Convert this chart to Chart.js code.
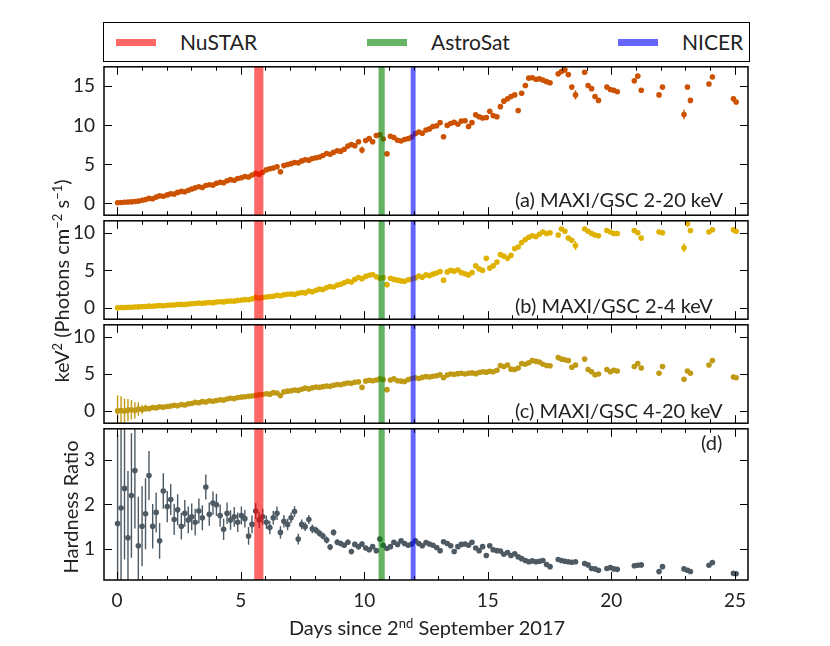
<!DOCTYPE html>
<html>
<head>
<meta charset="utf-8">
<script src="https://cdn.jsdelivr.net/npm/chart.js@4.4.0/dist/chart.umd.min.js"></script>
<style>
  body { margin: 0; background: #fff; font-family: Lato, sans-serif; color: #222; }
  #wrap { position: relative; width: 830px; height: 646px; }
  canvas { position: absolute; left: 0; }
  .txt { position: absolute; white-space: nowrap; font-size: 20px; line-height: 1; }
  .rot { transform: translate(-50%, -50%) rotate(-90deg); }
  sup { font-size: 0.65em; vertical-align: 0.55em; line-height: 0; }
  #legend { position: absolute; left: 103px; top: 22px; width: 647px; height: 40px;
            box-sizing: border-box; border: 1.5px solid #000; }
  #legend .sw { position: absolute; top: 16px; width: 40px; height: 7px; }
  #legend .lt { position: absolute; top: 8px; font-size: 21px; line-height: 1; }
</style>
</head>
<body>
<div id="wrap">
  <div id="legend"></div>
  <canvas id="pa" width="830" height="154" style="top:64px"></canvas>
  <canvas id="pb" width="830" height="104" style="top:218px"></canvas>
  <canvas id="pc" width="830" height="104" style="top:322px"></canvas>
  <canvas id="pd" width="830" height="190" style="top:426px"></canvas>

  <div class="txt" style="left:515px;top:189px">(a) MAXI/GSC 2-20 keV</div>
  <div class="txt" style="left:515px;top:295px">(b) MAXI/GSC 2-4 keV</div>
  <div class="txt" style="left:515px;top:400px">(c) MAXI/GSC 4-20 keV</div>
  <div class="txt" style="left:701px;top:432px">(d)</div>

  <div class="txt rot" style="left:61px;top:281px">keV<sup>2</sup> (Photons cm<sup>&minus;2</sup> s<sup>&minus;1</sup>)</div>
  <div class="txt rot" style="left:70px;top:507px">Hardness Ratio</div>
  <div class="txt" style="left:427px;top:627px;transform:translate(-50%,-50%)">Days since 2<sup>nd</sup> September 2017</div>
</div>

<script>
// observation times (days since 2 Sep 2017)
var days = [
  0.02, 0.16, 0.30, 0.44, 0.58, 0.72, 0.86,
  1.01, 1.15, 1.29, 1.44, 1.58, 1.72, 1.87,
  2.03, 2.17, 2.31, 2.45, 2.60, 2.74, 2.88,
  3.02, 3.16, 3.31, 3.45, 3.59, 3.73, 3.88,
  4.02, 4.17, 4.31, 4.45, 4.59, 4.74, 4.88,
  5.03, 5.17, 5.32, 5.46, 5.61, 5.75, 5.89,
  6.04, 6.18, 6.32, 6.47, 6.61, 6.75, 6.90,
  7.04, 7.18, 7.33, 7.47, 7.61, 7.76, 7.90,
  8.05, 8.19, 8.33, 8.48, 8.62, 8.76, 8.91,
  9.05, 9.19, 9.34, 9.48, 9.62, 9.77, 9.91,
  10.06, 10.20, 10.34, 10.49, 10.63, 10.77, 10.92,
  11.06, 11.20, 11.35, 11.49, 11.63, 11.78, 11.92,
  12.07, 12.21, 12.35, 12.50, 12.64, 12.78, 12.93,
  13.07, 13.21, 13.36, 13.50, 13.64, 13.79, 13.93,
  14.08, 14.22, 14.36, 14.51, 14.65, 14.79, 14.94,
  15.08, 15.22, 15.37, 15.51, 15.65, 15.80, 15.94,
  16.09, 16.23, 16.37, 16.52, 16.66, 16.80, 16.95,
  17.09, 17.23, 17.38, 17.52,
  17.85, 17.98, 18.12, 18.26, 18.40, 18.55,
  18.92, 19.06, 19.20, 19.34, 19.48,
  19.82, 19.96, 20.10, 20.24,
  20.93, 21.07, 21.21,
  21.93, 22.07,
  22.94, 23.08, 23.20,
  23.95, 24.09,
  24.94, 25.05
];

// (a) MAXI/GSC 2-20 keV
var flux2to20 = [
  0.10, 0.12, 0.15, 0.18, 0.20, 0.26, 0.30,
  0.40, 0.50, 0.65, 0.60, 0.82, 0.98, 0.92,
  1.10, 1.25, 1.20, 1.42, 1.55, 1.50, 1.70,
  1.85, 2.00, 2.15, 2.05, 2.30, 2.40, 2.35,
  2.60, 2.72, 2.65, 2.92, 3.05, 2.98, 3.20,
  3.30, 3.45, 3.40, 3.65, 3.85, 3.75, 4.00,
  4.30, 4.45, 4.55, 4.70, 4.05, 4.85, 5.00,
  5.10, 5.25, 5.20, 5.45, 5.60, 5.55, 5.75,
  5.85, 5.95, 6.15, 6.40, 6.30, 6.55, 6.75,
  6.70, 6.95, 7.35, 7.55, 7.40, 7.90, 6.85,
  8.05, 8.30, 7.90, 8.70, 8.80, 8.25, 6.35,
  8.60, 8.45, 8.10, 8.00, 8.20, 8.30, 8.50,
  8.95, 9.15, 9.00, 9.40, 9.55, 9.85, 9.95,
  10.35, 8.55, 10.00, 10.25, 10.40, 10.15, 10.55,
  10.60, 9.85, 10.35, 11.35, 11.10, 10.95, 11.00,
  11.80, 11.25, 11.10, 12.40, 13.10, 13.40, 13.70,
  13.90, 11.90, 14.10, 15.10, 16.05, 16.10, 15.90,
  15.95, 15.80, 15.60, 15.45,
  16.60, 16.90, 17.10, 16.50, 14.90, 13.90,
  16.80, 15.10, 14.70, 13.70, 13.20,
  14.90, 14.60, 14.50, 14.30,
  15.70, 16.30, 14.50,
  13.90, 14.90,
  11.40, 14.90, 13.20,
  15.30, 16.20,
  13.40, 13.00
];
var err2to20 = [
  0.1, 0.1, 0.1, 0.1, 0.1, 0.1, 0.1,
  0.1, 0.1, 0.1, 0.1, 0.1, 0.1, 0.1,
  0.1, 0.1, 0.1, 0.1, 0.1, 0.1, 0.1,
  0.1, 0.1, 0.1, 0.1, 0.1, 0.1, 0.1,
  0.1, 0.1, 0.1, 0.1, 0.1, 0.1, 0.1,
  0.1, 0.1, 0.1, 0.1, 0.1, 0.1, 0.1,
  0.1, 0.1, 0.1, 0.1, 0.2, 0.1, 0.1,
  0.1, 0.1, 0.1, 0.1, 0.1, 0.1, 0.1,
  0.1, 0.1, 0.1, 0.1, 0.1, 0.1, 0.1,
  0.1, 0.1, 0.1, 0.1, 0.1, 0.1, 0.45,
  0.1, 0.1, 0.1, 0.1, 0.1, 0.1, 0.2,
  0.1, 0.1, 0.1, 0.1, 0.1, 0.1, 0.1,
  0.1, 0.1, 0.1, 0.1, 0.1, 0.1, 0.1,
  0.1, 0.2, 0.1, 0.1, 0.1, 0.1, 0.1,
  0.1, 0.1, 0.1, 0.1, 0.1, 0.1, 0.1,
  0.1, 0.1, 0.1, 0.1, 0.1, 0.1, 0.1,
  0.1, 0.2, 0.1, 0.1, 0.1, 0.1, 0.1,
  0.2, 0.2, 0.2, 0.2,
  0.2, 0.2, 0.2, 0.2, 0.3, 0.6,
  0.2, 0.2, 0.2, 0.3, 0.2,
  0.2, 0.2, 0.2, 0.2,
  0.2, 0.2, 0.2,
  0.2, 0.2,
  0.6, 0.2, 0.3,
  0.3, 0.3,
  0.3, 0.3
];

// (b) MAXI/GSC 2-4 keV
var flux2to4 = [
  0.02, 0.05, 0.06, 0.08, 0.10, 0.12, 0.14,
  0.18, 0.20, 0.24, 0.22, 0.28, 0.32, 0.30,
  0.36, 0.40, 0.38, 0.45, 0.48, 0.46, 0.52,
  0.55, 0.60, 0.65, 0.62, 0.68, 0.72, 0.70,
  0.78, 0.82, 0.80, 0.88, 0.92, 0.90, 1.00,
  1.05, 1.10, 1.08, 1.20, 1.40, 1.30, 1.38,
  1.45, 1.52, 1.55, 1.68, 1.62, 1.75, 1.82,
  1.85, 1.80, 1.95, 2.05, 2.00, 2.25, 2.15,
  2.35, 2.50, 2.45, 2.70, 2.85, 2.78, 3.05,
  3.15, 3.35, 3.55, 3.45, 3.80, 4.05, 3.90,
  4.20, 4.35, 4.45, 4.15, 3.95, 4.05, 3.10,
  3.95, 3.80, 3.70, 3.60, 3.55, 3.75, 3.85,
  4.00, 4.25, 4.10, 4.40, 4.30, 4.50, 4.65,
  4.85, 3.70, 4.80, 5.00, 4.90, 5.05, 4.70,
  4.55, 4.40, 4.70, 5.60, 5.20, 5.00, 6.60,
  5.30, 5.60, 6.10, 7.10, 6.90, 6.60, 7.00,
  7.90, 8.10, 8.70, 9.10, 9.40, 9.60, 9.50,
  9.80, 10.10, 9.90, 10.00,
  9.70, 10.50, 10.20, 9.30, 9.00, 8.30,
  10.50, 10.20, 9.90, 9.70, 9.60,
  10.30, 10.10, 9.90, 9.90,
  10.30, 10.00, 9.30,
  10.10, 10.00,
  8.00, 11.20, 10.30,
  10.10, 10.40,
  10.40, 10.20
];
var err2to4 = [
  0.06, 0.06, 0.06, 0.06, 0.06, 0.06, 0.06,
  0.06, 0.06, 0.06, 0.06, 0.06, 0.06, 0.06,
  0.06, 0.06, 0.06, 0.06, 0.06, 0.06, 0.06,
  0.06, 0.06, 0.06, 0.06, 0.06, 0.06, 0.06,
  0.06, 0.06, 0.06, 0.06, 0.06, 0.06, 0.06,
  0.06, 0.06, 0.06, 0.06, 0.06, 0.06, 0.06,
  0.06, 0.06, 0.06, 0.06, 0.06, 0.06, 0.06,
  0.06, 0.06, 0.06, 0.06, 0.06, 0.06, 0.06,
  0.06, 0.06, 0.06, 0.06, 0.06, 0.06, 0.06,
  0.06, 0.06, 0.06, 0.06, 0.06, 0.06, 0.06,
  0.06, 0.06, 0.06, 0.06, 0.06, 0.06, 0.15,
  0.06, 0.06, 0.06, 0.06, 0.06, 0.06, 0.06,
  0.06, 0.06, 0.06, 0.06, 0.06, 0.06, 0.06,
  0.06, 0.15, 0.06, 0.06, 0.06, 0.06, 0.06,
  0.06, 0.06, 0.06, 0.06, 0.06, 0.06, 0.06,
  0.06, 0.06, 0.06, 0.06, 0.06, 0.06, 0.06,
  0.06, 0.06, 0.06, 0.06, 0.06, 0.06, 0.06,
  0.15, 0.15, 0.15, 0.15,
  0.15, 0.15, 0.15, 0.2, 0.3, 0.6,
  0.15, 0.15, 0.15, 0.15, 0.15,
  0.15, 0.15, 0.15, 0.15,
  0.15, 0.15, 0.2,
  0.15, 0.15,
  0.6, 0.4, 0.2,
  0.2, 0.2,
  0.2, 0.2
];

// (c) MAXI/GSC 4-20 keV
var flux4to20 = [
  0.05, 0.10, 0.02, 0.15, 0.20, 0.12, 0.30,
  0.25, 0.40, 0.35, 0.50, 0.45, 0.60, 0.55,
  0.65, 0.70, 0.80, 0.75, 0.90, 0.85, 1.00,
  1.05, 1.20, 1.15, 1.30, 1.25, 1.40, 1.35,
  1.45, 1.55, 1.50, 1.65, 1.75, 1.70, 1.85,
  1.90, 1.95, 2.00, 2.05, 2.15, 2.20, 2.25,
  2.35, 2.30, 2.50, 2.45, 2.10, 2.60, 2.70,
  2.75, 2.85, 2.80, 2.95, 3.10, 3.00, 3.15,
  3.25, 3.20, 3.30, 3.40, 3.35, 3.50, 3.60,
  3.55, 3.70, 3.80, 3.75, 3.90, 3.95, 3.20,
  4.05, 4.15, 4.10, 4.20, 4.35, 4.25, 2.90,
  4.20, 4.35, 4.10, 4.05, 4.00, 4.25, 4.40,
  4.50, 4.40, 4.55, 4.65, 4.60, 4.70, 4.75,
  4.90, 4.50, 4.85, 5.00, 4.95, 5.05, 5.10,
  5.00, 5.10, 5.15, 5.05, 5.20, 5.30, 5.25,
  5.35, 5.30, 5.50, 6.15, 6.00, 6.20, 5.65,
  5.60, 5.80, 6.40, 6.30, 6.50, 6.80, 6.70,
  6.60, 6.30, 6.15, 6.10,
  7.20, 7.00, 6.90, 6.80, 5.90, 6.20,
  7.00, 5.60, 5.30, 4.90, 5.00,
  5.60, 5.30, 5.50, 5.40,
  6.00, 6.40, 5.80,
  5.10, 6.00,
  4.30, 5.40, 5.10,
  6.20, 6.80,
  4.60, 4.50
];
var err4to20 = [
  2.1, 1.9, 1.7, 1.5, 1.3, 1.1, 0.9,
  0.6, 0.5, 0.3, 0.2, 0.15, 0.15, 0.1,
  0.1, 0.1, 0.1, 0.1, 0.1, 0.1, 0.1,
  0.1, 0.1, 0.1, 0.1, 0.1, 0.1, 0.1,
  0.1, 0.1, 0.1, 0.1, 0.1, 0.1, 0.1,
  0.1, 0.1, 0.1, 0.1, 0.1, 0.1, 0.1,
  0.1, 0.1, 0.1, 0.1, 0.1, 0.1, 0.1,
  0.1, 0.1, 0.1, 0.1, 0.1, 0.1, 0.1,
  0.1, 0.1, 0.1, 0.1, 0.1, 0.1, 0.1,
  0.1, 0.1, 0.1, 0.1, 0.1, 0.1, 0.1,
  0.1, 0.1, 0.1, 0.1, 0.1, 0.1, 0.1,
  0.1, 0.1, 0.1, 0.1, 0.1, 0.1, 0.1,
  0.1, 0.1, 0.1, 0.1, 0.1, 0.1, 0.1,
  0.1, 0.1, 0.1, 0.1, 0.1, 0.1, 0.1,
  0.1, 0.1, 0.1, 0.1, 0.1, 0.1, 0.1,
  0.1, 0.1, 0.1, 0.1, 0.1, 0.1, 0.1,
  0.1, 0.1, 0.1, 0.1, 0.1, 0.1, 0.1,
  0.15, 0.15, 0.15, 0.15,
  0.15, 0.15, 0.15, 0.15, 0.15, 0.2,
  0.15, 0.15, 0.15, 0.15, 0.15,
  0.15, 0.15, 0.15, 0.15,
  0.15, 0.15, 0.15,
  0.15, 0.15,
  0.2, 0.15, 0.15,
  0.15, 0.15,
  0.15, 0.15
];

// (d) hardness ratio
var hardness = [
  1.57, 1.92, 2.36, 1.25, 2.20, 2.76, 1.07,
  1.51, 1.79, 2.65, 1.51, 1.82, 1.18, 2.30,
  1.95, 2.11, 1.66, 1.88, 1.51, 1.80, 1.65,
  1.72, 1.60, 1.85, 1.70, 2.39, 1.78, 2.03,
  1.99, 1.75, 1.44, 1.80, 1.65, 1.72, 1.60,
  1.75, 1.68, 1.29, 1.55, 1.85, 1.65, 1.72,
  1.60, 1.48, 1.70, 1.80, 1.37, 1.62, 1.55,
  1.70, 1.84, 1.22, 1.55, 1.50, 1.66, 1.45,
  1.42, 1.35, 1.29, 1.20, 1.04, 1.37, 1.15,
  1.12, 1.08, 1.15, 0.94, 1.10, 1.05, 1.11,
  1.02, 0.98, 1.05, 0.96, 1.22, 1.08, 1.01,
  1.05, 1.15, 1.10, 1.18, 1.12, 1.08, 1.11,
  1.18, 1.12, 1.07, 1.14, 1.11, 1.08, 1.03,
  0.96, 1.16, 1.12, 1.07, 0.94, 1.05, 1.10,
  1.11, 1.08, 1.15, 1.02, 0.96, 1.05, 0.85,
  1.07, 0.98, 0.96, 0.95, 0.88, 0.92, 0.85,
  0.89, 0.82, 0.78, 0.74, 0.71, 0.73, 0.71,
  0.72, 0.74, 0.65, 0.60,
  0.76, 0.74, 0.72, 0.71, 0.70, 0.71,
  0.67, 0.64, 0.56, 0.55, 0.52,
  0.56, 0.58, 0.55, 0.54,
  0.62, 0.63, 0.64,
  0.49, 0.60,
  0.55, 0.52, 0.49,
  0.63, 0.69,
  0.45, 0.44
];
var errHardness = [
  2.0, 1.8, 1.6, 1.5, 1.4, 1.3, 1.1,
  0.9, 0.8, 0.55, 0.5, 0.45, 0.4, 0.4,
  0.35, 0.35, 0.35, 0.35, 0.3, 0.3, 0.3,
  0.3, 0.3, 0.28, 0.28, 0.28, 0.26, 0.26,
  0.25, 0.25, 0.24, 0.24, 0.22, 0.22, 0.22,
  0.2, 0.2, 0.2, 0.2, 0.18, 0.18, 0.18,
  0.15, 0.15, 0.15, 0.15, 0.14, 0.14, 0.13,
  0.12, 0.12, 0.12, 0.11, 0.1, 0.1, 0.1,
  0.08, 0.08, 0.08, 0.08, 0.07, 0.07, 0.07,
  0.06, 0.06, 0.06, 0.06, 0.06, 0.06, 0.06,
  0.05, 0.05, 0.05, 0.05, 0.05, 0.05, 0.05,
  0.05, 0.05, 0.05, 0.05, 0.05, 0.05, 0.05,
  0.05, 0.05, 0.05, 0.05, 0.05, 0.05, 0.05,
  0.05, 0.05, 0.05, 0.05, 0.05, 0.05, 0.05,
  0.04, 0.04, 0.04, 0.04, 0.04, 0.04, 0.04,
  0.04, 0.04, 0.04, 0.04, 0.04, 0.04, 0.04,
  0.04, 0.04, 0.04, 0.04, 0.04, 0.04, 0.04,
  0.03, 0.03, 0.03, 0.03,
  0.03, 0.03, 0.03, 0.03, 0.03, 0.03,
  0.03, 0.03, 0.03, 0.03, 0.03,
  0.03, 0.03, 0.03, 0.03,
  0.03, 0.03, 0.03,
  0.03, 0.03,
  0.03, 0.03, 0.03,
  0.03, 0.03,
  0.03, 0.03
];

// pointed observations (shaded bands)
var bandNames = ['NuSTAR', 'AstroSat', 'NICER'];
var bandStart = [5.55, 10.58, 11.88];
var bandEnd = [5.92, 10.83, 12.08];
var bandColors = ['rgba(255,0,0,0.6)', 'rgba(0,128,0,0.6)', 'rgba(0,0,255,0.6)'];

// tick labels
var xTicks = [0, 5, 10, 15, 20, 25];
var yTicksA = [0, 5, 10, 15];
var yTicksB = [0, 5, 10];
var yTicksC = [0, 5, 10];
var yTicksD = [1, 2, 3];

Chart.defaults.font.family = 'Lato';
Chart.defaults.color = '#222';

// legend
var legend = document.getElementById('legend');
bandNames.forEach(function (name, i) {
  var sw = document.createElement('span');
  sw.className = 'sw';
  sw.style.left = (12 + 251 * i) + 'px';
  sw.style.background = bandColors[i];
  legend.appendChild(sw);
  var lt = document.createElement('span');
  lt.className = 'lt';
  lt.style.left = (76 + 251 * i) + 'px';
  lt.textContent = name;
  legend.appendChild(lt);
});

function panelPlugin(vals, errs, color, yTicks) {
  return {
    id: 'panel',
    beforeDatasetsDraw: function (chart) {
      var ctx = chart.ctx, xs = chart.scales.x, ys = chart.scales.y, a = chart.chartArea;
      ctx.save();
      ctx.beginPath();
      ctx.rect(a.left, a.top, a.right - a.left, a.bottom - a.top);
      ctx.clip();
      ctx.strokeStyle = color;
      ctx.lineWidth = 1.4;
      for (var i = 0; i < days.length; i++) {
        var px = xs.getPixelForValue(days[i]);
        ctx.beginPath();
        ctx.moveTo(px, ys.getPixelForValue(vals[i] - errs[i]));
        ctx.lineTo(px, ys.getPixelForValue(vals[i] + errs[i]));
        ctx.stroke();
      }
      ctx.restore();
    },
    afterDatasetsDraw: function (chart) {
      var ctx = chart.ctx, xs = chart.scales.x, a = chart.chartArea;
      ctx.save();
      for (var i = 0; i < bandNames.length; i++) {
        var x0 = xs.getPixelForValue(bandStart[i]);
        var x1 = xs.getPixelForValue(bandEnd[i]);
        ctx.fillStyle = bandColors[i];
        ctx.fillRect(x0, a.top, x1 - x0, a.bottom - a.top);
      }
      ctx.restore();
    },
    afterDraw: function (chart) {
      var ctx = chart.ctx, xs = chart.scales.x, ys = chart.scales.y, a = chart.chartArea;
      ctx.save();
      ctx.strokeStyle = '#000';
      ctx.lineWidth = 1;
      ctx.beginPath();
      for (var d = 0; d <= 25; d++) {
        var px = Math.round(xs.getPixelForValue(d)) + 0.5;
        var len = (d % 5 === 0) ? 8 : 4;
        ctx.moveTo(px, a.bottom); ctx.lineTo(px, a.bottom - len);
        ctx.moveTo(px, a.top); ctx.lineTo(px, a.top + len);
      }
      yTicks.forEach(function (v) {
        var py = Math.round(ys.getPixelForValue(v)) + 0.5;
        ctx.moveTo(a.left, py); ctx.lineTo(a.left + 8, py);
        ctx.moveTo(a.right, py); ctx.lineTo(a.right - 8, py);
      });
      ctx.stroke();
      ctx.lineWidth = 1.5;
      ctx.strokeRect(a.left, a.top, a.right - a.left, a.bottom - a.top);
      ctx.restore();
    }
  };
}

function makePanel(id, vals, errs, color, yMin, yMax, yTicks, showX) {
  var pts = days.map(function (d, i) { return { x: d, y: vals[i] }; });
  return new Chart(document.getElementById(id), {
    type: 'scatter',
    data: {
      datasets: [{
        data: pts,
        backgroundColor: color,
        borderWidth: 0,
        pointRadius: 2.8,
        pointHoverRadius: 2.8
      }]
    },
    options: {
      responsive: false,
      animation: false,
      events: [],
      layout: { padding: { left: 0, right: 82, top: 0, bottom: 0 } },
      plugins: { legend: { display: false }, tooltip: { enabled: false } },
      scales: {
        x: {
          type: 'linear', min: -0.53, max: 25.53, display: showX,
          grid: { display: false, drawTicks: false },
          border: { display: false },
          ticks: { font: { size: 19 }, padding: 9, maxRotation: 0 },
          afterBuildTicks: function (s) { s.ticks = xTicks.map(function (v) { return { value: v }; }); },
          afterFit: function (s) {
            s.height = showX ? 36 : 0;
            s.paddingLeft = 0; s.paddingRight = 0;
          }
        },
        y: {
          min: yMin, max: yMax,
          grid: { display: false, drawTicks: false },
          border: { display: false },
          ticks: { font: { size: 19 }, padding: 9 },
          afterBuildTicks: function (s) { s.ticks = yTicks.map(function (v) { return { value: v }; }); },
          afterFit: function (s) { s.width = 104; s.paddingTop = 0; s.paddingBottom = 0; }
        }
      }
    },
    plugins: [panelPlugin(vals, errs, color, yTicks)]
  });
}

makePanel('pa', flux2to20, err2to20, '#cc5200', -1.5, 17.5, yTicksA, false);
makePanel('pb', flux2to4, err2to4, '#e0b200', -1.5, 11.6, yTicksB, false);
makePanel('pc', flux4to20, err4to20, '#c09a14', -1.6, 11.6, yTicksC, false);
makePanel('pd', hardness, errHardness, '#4d5a63', 0.3, 3.7, yTicksD, true);
</script>
</body>
</html>
